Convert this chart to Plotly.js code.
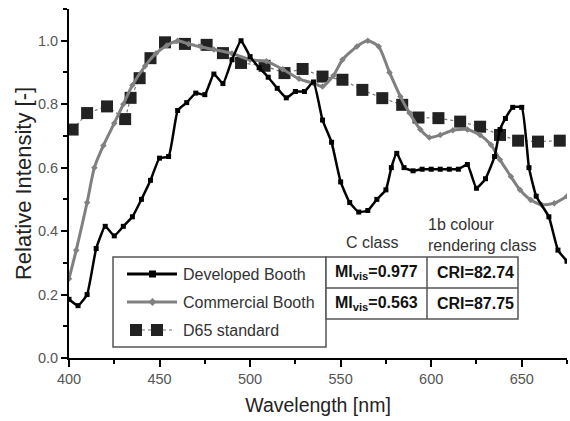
<!DOCTYPE html>
<html>
<head>
<meta charset="utf-8">
<script src="https://cdn.plot.ly/plotly-3.0.1.min.js"></script>
<style>html,body{margin:0;padding:0;background:#fff;}#chart{width:570px;height:421px;}</style>
</head>
<body>
<div id="chart"></div>
<script>
// ---- data ----
const devWl = [400,405,410,415,420,425,430,435,440,445,450,455,460,465,470,475,480,485,490,495,500,505,510,515,520,525,530,535,540,545,550,555,560,565,570,575,578,581,585,590,595,600,605,610,615,620,625,630,635,638,641,645,650,654,658,665,670,675];
const devVal = [0.185,0.165,0.20,0.345,0.415,0.385,0.415,0.445,0.50,0.56,0.63,0.635,0.78,0.805,0.835,0.83,0.895,0.865,0.94,1.0,0.95,0.915,0.885,0.85,0.82,0.84,0.84,0.87,0.75,0.68,0.555,0.49,0.46,0.465,0.50,0.53,0.60,0.645,0.60,0.59,0.595,0.595,0.595,0.595,0.595,0.61,0.535,0.565,0.635,0.72,0.755,0.79,0.79,0.60,0.51,0.445,0.34,0.305];

const comWl = [400,404,410,414,419,425,430,435,442,448,454,460,466,473,480,490,500,509,518,527,535,540,546,551,559,565,571,577,583,588,594,599,605,612,620,627,633,638,644,649,655,661,668,675];
const comVal = [0.25,0.34,0.49,0.60,0.67,0.74,0.80,0.86,0.92,0.96,0.985,1.0,0.99,0.98,0.972,0.96,0.94,0.935,0.91,0.88,0.866,0.856,0.89,0.94,0.982,1.0,0.982,0.90,0.824,0.772,0.72,0.695,0.703,0.718,0.72,0.703,0.672,0.625,0.572,0.53,0.498,0.483,0.488,0.51];

const d65Wl = [402,410,421,431,434,439,445,453,464,476,485,495,508,519,529,540,551,562,573,584,593,604,616,627,638,648,659,671];
const d65Val = [0.72,0.772,0.793,0.753,0.82,0.882,0.945,0.995,0.99,0.987,0.961,0.93,0.921,0.898,0.911,0.887,0.877,0.845,0.819,0.798,0.758,0.756,0.745,0.729,0.703,0.685,0.682,0.685];

const seriesNames = ["Developed Booth","Commercial Booth","D65 standard"];
const miLabels = ["MI<sub>vis</sub>=0.977","MI<sub>vis</sub>=0.563"];
const criLabels = ["CRI=82.74","CRI=87.75"];
const classLabel = "C class";
const criClassLabel = "1b colour<br>rendering class";
const xTicks = [400,450,500,550,600,650];
const yTicks = [0.0,0.2,0.4,0.6,0.8,1.0];

// ---- layout geometry ----
const W = 570, H = 421, ML = 69, MR = 3, MT = 9, MB = 63;
const PW = W - ML - MR, PH = H - MT - MB;
const px = v => (v - ML) / PW;
const py = v => (H - MB - v) / PH;
const FONT = "Liberation Sans, Arial, sans-serif";

const traces = [
  {x: d65Wl, y: d65Val, name: seriesNames[2], mode: "lines+markers", type: "scatter",
   line: {color: "#777", width: 1.2, dash: "dot"},
   marker: {symbol: "square", size: 12, color: "#222"}},
  {x: comWl, y: comVal, name: seriesNames[1], mode: "lines+markers", type: "scatter",
   line: {color: "#808080", width: 3, shape: "spline", smoothing: 0.6},
   marker: {symbol: "diamond", size: 5, color: "#808080"}},
  {x: devWl, y: devVal, name: seriesNames[0], mode: "lines+markers", type: "scatter",
   line: {color: "#000", width: 2.5, shape: "spline", smoothing: 0.4},
   marker: {symbol: "square", size: 5, color: "#000"}}
];

const shapes = [];
const rect = (x0,y0,x1,y1,opt) => Object.assign({type:"rect", xref:"paper", yref:"paper",
  x0:px(x0), x1:px(x1), y0:py(y1), y1:py(y0), layer:"above"}, opt);
const seg = (x0,y0,x1,y1,opt) => Object.assign({type:"line", xref:"paper", yref:"paper",
  x0:px(x0), x1:px(x1), y0:py(y0), y1:py(y1), layer:"above"}, opt);

// legend box and table
shapes.push(rect(113,257,326,347,{line:{color:"#555",width:1.5},fillcolor:"#fff"}));
shapes.push(rect(326,257,518,319,{line:{color:"#555",width:1.5},fillcolor:"#fff"}));
shapes.push(seg(427,257,427,319,{line:{color:"#555",width:1.5}}));
shapes.push(seg(326,288,518,288,{line:{color:"#555",width:1.5}}));
// legend samples
shapes.push(seg(127,274,177,274,{line:{color:"#000",width:3}}));
shapes.push(rect(149,270.5,156,277.5,{line:{width:0},fillcolor:"#000"}));
shapes.push(seg(127,302,177,302,{line:{color:"#808080",width:3}}));
shapes.push({type:"path", xref:"paper", yref:"paper", layer:"above",
  path:`M${px(152.5)},${py(298)} L${px(156.5)},${py(302)} L${px(152.5)},${py(306)} L${px(148.5)},${py(302)} Z`,
  fillcolor:"#808080", line:{width:0}});
shapes.push(seg(142,330,151,330,{line:{color:"#777",width:1.2,dash:"dot"}}));
shapes.push(seg(163,330,173,330,{line:{color:"#777",width:1.2,dash:"dot"}}));
shapes.push(rect(130,324,142,336,{line:{width:0},fillcolor:"#222"}));
shapes.push(rect(151,324,163,336,{line:{width:0},fillcolor:"#222"}));

const ann = (text,x,y,opt) => Object.assign({text, xref:"paper", yref:"paper", x:px(x), y:py(y),
  showarrow:false, xanchor:"left", yanchor:"middle", font:{family:FONT,size:16,color:"#333"}}, opt);
const annotations = [
  ann(seriesNames[0],181,274),
  ann(seriesNames[1],181,302),
  ann(seriesNames[2],181,330),
  ann("<b>"+miLabels[0]+"</b>",376.5,272.5,{xanchor:"center",font:{family:FONT,size:16,color:"#111"}}),
  ann("<b>"+miLabels[1]+"</b>",376.5,303.5,{xanchor:"center",font:{family:FONT,size:16,color:"#111"}}),
  ann("<b>"+criLabels[0]+"</b>",475,272.5,{xanchor:"center",font:{family:FONT,size:16,color:"#111"}}),
  ann("<b>"+criLabels[1]+"</b>",475,303.5,{xanchor:"center",font:{family:FONT,size:16,color:"#111"}}),
  ann(classLabel,371.5,242,{xanchor:"center"}),
  ann(criClassLabel,426,235,{xanchor:"left",align:"left"})
];

const layout = {
  width: W, height: H,
  margin: {l: ML, r: MR, t: MT, b: MB},
  paper_bgcolor: "#fff", plot_bgcolor: "#fff",
  showlegend: false,
  font: {family: FONT, color: "#333"},
  xaxis: {
    range: [400, 675], tickvals: xTicks, ticktext: xTicks.map(String),
    showgrid: false, zeroline: false, showline: true, linecolor: "#000", linewidth: 2,
    ticks: "outside", ticklen: 7, tickwidth: 2, tickcolor: "#000",
    minor: {dtick: 25, ticks: "outside", ticklen: 4, tickwidth: 2, tickcolor: "#000"},
    tickfont: {family: FONT, size: 14.5, color: "#555"},
    title: {text: "Wavelength [nm]", font: {family: FONT, size: 19.5, color: "#222"}, standoff: 12}
  },
  yaxis: {
    range: [0, 1.1], tickvals: yTicks, ticktext: yTicks.map(v => v.toFixed(1)),
    showgrid: false, zeroline: false, showline: true, linecolor: "#000", linewidth: 2,
    ticks: "outside", ticklen: 6, tickwidth: 2, tickcolor: "#000",
    minor: {dtick: 0.1, ticks: "outside", ticklen: 4, tickwidth: 2, tickcolor: "#000"},
    tickfont: {family: FONT, size: 14.5, color: "#555"},
    title: {text: "Relative Intensity [-]", font: {family: FONT, size: 22, color: "#222"}, standoff: 0}
  },
  shapes, annotations
};

Plotly.newPlot("chart", traces, layout, {displayModeBar: false, staticPlot: true});
</script>
</body>
</html>
